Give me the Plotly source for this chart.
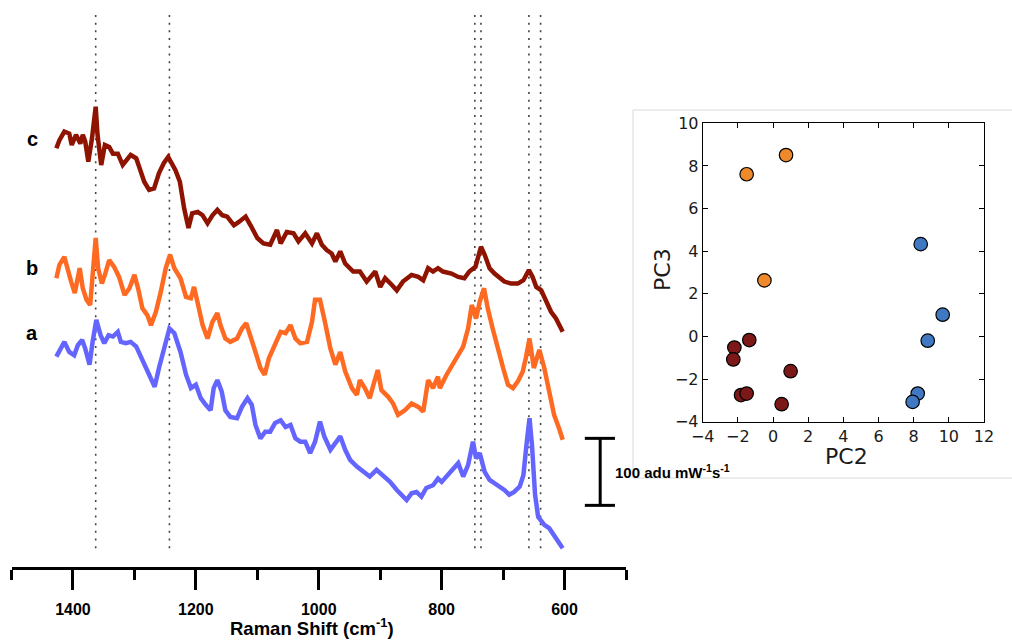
import plotly.graph_objects as go

# ---------------- Raman spectra (wavenumber in cm-1, intensity in adu mW-1 s-1, offset) ----
c_wn = [1427, 1422, 1414, 1406, 1402, 1395, 1388, 1384, 1380, 1375, 1369, 1363, 1360, 1354,
        1348, 1341, 1335, 1327, 1319, 1312, 1306, 1297, 1292, 1284, 1276, 1268, 1260, 1252,
        1245, 1238, 1233, 1226, 1219, 1212, 1206, 1197, 1189, 1181, 1173, 1165, 1157, 1149,
        1138, 1130, 1119, 1111, 1100, 1090, 1079, 1068, 1062, 1052, 1041, 1033, 1022, 1011,
        1003, 995, 987, 979, 973, 965, 957, 944, 933, 922, 908, 900, 892, 881, 873, 863,
        849, 838, 830, 822, 814, 806, 798, 784, 773, 763, 755, 745, 736, 730, 722, 714,
        706, 698, 687, 676, 667, 658, 652, 646, 638, 630, 622, 614, 603]
c_int = [625, 637, 650, 647, 630, 645, 632, 645, 635, 605, 640, 687, 645, 600,
         630, 627, 617, 617, 600, 607, 615, 610, 595, 575, 563, 565, 588, 603,
         612, 600, 592, 575, 535, 506, 528, 530, 525, 513, 525, 533, 525, 523,
         510, 515, 523, 510, 491, 483, 481, 503, 483, 500, 498, 486, 498, 483,
         498, 481, 473, 468, 456, 471, 453, 441, 441, 426, 441, 418, 431, 421, 413, 426,
         436, 433, 428, 446, 441, 446, 441, 438, 433, 431, 441, 448, 478, 466, 446, 438,
         433, 426, 423, 423, 428, 443, 433, 418, 413, 396, 381, 371, 351]

b_wn = [1427, 1422, 1414, 1408, 1403, 1397, 1389, 1384, 1378, 1372, 1368, 1363, 1359, 1353,
        1348, 1341, 1333, 1325, 1316, 1308, 1300, 1294, 1287, 1279, 1273, 1265, 1257, 1249,
        1242, 1235, 1225, 1216, 1208, 1203, 1197, 1189, 1181, 1173, 1165, 1160, 1152, 1144,
        1133, 1125, 1118, 1111, 1103, 1095, 1088, 1081, 1071, 1062, 1054, 1046, 1038, 1030,
        1019, 1011, 1006, 998, 990, 981, 973, 965, 957, 946, 938, 933, 925, 917, 911, 904,
        898, 887, 879, 871, 860, 849, 838, 830, 822, 814, 806, 803, 792, 782, 773, 765,
        757, 751, 744, 738, 731, 725, 717, 709, 700, 692, 684, 676, 668, 663, 657, 650,
        641, 633, 625, 617, 609, 603]
b_int = [431, 451, 463, 441, 426, 409, 446, 416, 399, 391, 436, 491, 446, 423,
         436, 458, 448, 433, 406, 416, 436, 416, 386, 376, 361, 381, 411, 446,
         466, 446, 431, 403, 401, 418, 394, 361, 341, 366, 379, 361, 341, 336,
         341, 356, 364, 346, 321, 297, 287, 312, 331, 351, 349, 361, 341, 334,
         336, 366, 399, 399, 366, 326, 302, 321, 292, 267, 257, 279, 267, 252, 272, 294,
         264, 254, 244, 227, 234, 244, 239, 232, 279, 267, 284, 267, 287, 302, 316, 329,
         356, 391, 371, 396, 416, 386, 356, 326, 297, 272, 267, 277, 292, 312, 341, 297,
         324, 297, 262, 227, 207, 190]

a_wn = [1427, 1422, 1414, 1406, 1398, 1392, 1385, 1380, 1373, 1368, 1362, 1355, 1349, 1342,
        1335, 1327, 1322, 1314, 1306, 1297, 1289, 1281, 1273, 1267, 1260, 1252, 1243, 1235,
        1225, 1216, 1208, 1200, 1192, 1184, 1176, 1171, 1165, 1158, 1152, 1144, 1133, 1125,
        1116, 1109, 1103, 1095, 1087, 1079, 1071, 1062, 1054, 1046, 1038, 1030, 1022, 1014,
        1006, 998, 991, 981, 973, 965, 957, 949, 938, 927, 917, 906, 895, 884, 873, 865,
        857, 849, 841, 833, 825, 814, 806, 800, 790, 782, 773, 765, 757, 749, 744, 738,
        730, 722, 714, 706, 698, 690, 682, 673, 667, 662, 657, 653, 648, 643, 633, 625,
        617, 609, 603]
a_int = [314, 324, 336, 321, 316, 331, 339, 326, 302, 336, 369, 346, 334, 346,
         344, 351, 336, 334, 336, 329, 312, 297, 279, 269, 297, 326, 356, 349,
         321, 287, 267, 272, 252, 242, 234, 267, 279, 262, 234, 224, 222, 239,
         252, 242, 212, 192, 202, 202, 215, 219, 209, 212, 192, 187, 187, 170,
         187, 217, 195, 175, 185, 195, 175, 160, 150, 142, 135, 145, 137, 127, 115, 108,
         100, 110, 112, 105, 118, 122, 132, 127, 137, 145, 155, 135, 152, 187, 162, 170,
         142, 130, 125, 122, 115, 108, 112, 120, 137, 182, 222, 182, 108, 75, 63, 58,
         48, 38, 28]

spectra_names = ["a", "b", "c"]
spectra_colors = ["#6464FF", "#FF6A22", "#8E1300"]
label_int = [350, 446, 639]

peak_wn = [1363, 1243, 746, 736, 658, 639]

# ---------------- PCA scores ----------------
pc2_orange = [0.74, -1.50, -0.49]
pc3_orange = [8.51, 7.61, 2.63]
pc2_blue = [8.40, 9.65, 8.80, 8.23, 7.94]
pc3_blue = [4.33, 1.02, -0.20, -2.68, -3.07]
pc2_red = [-2.20, -2.26, -1.35, 1.00, -1.82, -1.50, 0.49]
pc3_red = [-0.52, -1.08, -0.17, -1.63, -2.75, -2.68, -3.18]

W, H = 1012, 640
fig = go.Figure()

wn_list = [a_wn, b_wn, c_wn]
int_list = [a_int, b_int, c_int]
for name, col, wn, it in zip(spectra_names, spectra_colors, wn_list, int_list):
    fig.add_trace(go.Scatter(x=wn, y=it, mode="lines", name=name,
                             line=dict(color=col, width=4.5), xaxis="x", yaxis="y",
                             hoverinfo="skip"))

groups = [(pc2_red, pc3_red, "#7C1818"), (pc2_orange, pc3_orange, "#EE8A2C"),
          (pc2_blue, pc3_blue, "#4079C2")]
for gx, gy, col in groups:
    fig.add_trace(go.Scatter(x=gx, y=gy, mode="markers", xaxis="x2", yaxis="y2",
                             marker=dict(size=13.5, color=col,
                                         line=dict(color="black", width=1.2))))

shapes = []
for p in peak_wn:
    shapes.append(dict(type="line", xref="x", yref="y", x0=p, x1=p, y0=28, y1=825,
                       line=dict(color="#444444", width=1.6, dash="2px,5.7px"), layer="below"))
# scale bar (100 adu)
sb_x, sb_y0, sb_y1 = 542, 92, 192
shapes.append(dict(type="line", xref="x", yref="y", x0=sb_x, x1=sb_x, y0=sb_y0, y1=sb_y1,
                   line=dict(color="black", width=3)))
for yy in (sb_y0, sb_y1):
    shapes.append(dict(type="line", xref="x", yref="y", x0=567, x1=518, y0=yy, y1=yy,
                       line=dict(color="black", width=3)))
# light frame around the inset
shapes.append(dict(type="rect", xref="paper", yref="paper", x0=633 / W, x1=1.02,
                   y0=1 - 478 / H, y1=1 - 110 / H, line=dict(color="#d8d8d8", width=1),
                   layer="below"))

bold = dict(family="Liberation Sans, Arial", color="black", weight="bold")
ann = []
for name, yv in zip(spectra_names, label_int):
    ann.append(dict(x=1466, y=yv, xref="x", yref="y", text=name, showarrow=False,
                    font=dict(size=20, **bold), xanchor="center", yanchor="middle"))
ann.append(dict(x=521, y=142, xref="x", yref="y", xanchor="left", yanchor="middle",
                text="100 adu mW<sup>-1</sup>s<sup>-1</sup>", showarrow=False,
                font=dict(size=15, **bold)))
ann.append(dict(x=312 / W, y=0, xref="paper", yref="paper", showarrow=False,
                text="Raman Shift (cm<sup>-1</sup>)", font=dict(size=18.5, **bold),
                xanchor="center", yanchor="bottom", borderpad=0))
dv = dict(family="DejaVu Sans", color="#1a1a1a")
ann.append(dict(x=846 / W, y=1 - 456 / H, xref="paper", yref="paper", showarrow=False,
                text="PC2", font=dict(size=22, **dv), xanchor="center", yanchor="middle"))
ann.append(dict(x=662 / W, y=1 - 270 / H, xref="paper", yref="paper", showarrow=False,
                text="PC3", textangle=-90, font=dict(size=22, **dv),
                xanchor="center", yanchor="middle"))

fig.update_layout(
    width=W, height=H, margin=dict(l=0, r=0, t=0, b=0, pad=0), autosize=False,
    paper_bgcolor="white", plot_bgcolor="rgba(0,0,0,0)", showlegend=False,
    shapes=shapes, annotations=ann,
    xaxis=dict(domain=[11.5 / W, 626 / W], range=[1500, 500], showline=True,
               linecolor="black", linewidth=3, ticks="outside", ticklen=20, tickwidth=3,
               tickcolor="black", tickmode="linear", tick0=600, dtick=200,
               tickfont=dict(size=16, **bold), showgrid=False, zeroline=False,
               ticklabelstandoff=6, automargin=False,
               minor=dict(ticks="outside", ticklen=10, tickwidth=3, tickcolor="black",
                          dtick=100, tick0=500, showgrid=False)),
    yaxis=dict(domain=[1 - 567 / H, 1], range=[0, 846.3], visible=False, automargin=False),
    xaxis2=dict(domain=[702.7 / W, 984 / W], anchor="y2", range=[-4, 12], showline=True,
                mirror="ticks", linecolor="black", linewidth=1, ticks="inside", ticklen=5,
                tickwidth=1, tickcolor="black", tickmode="linear", tick0=-4, dtick=2,
                tickfont=dict(size=16, **dv), showgrid=False, zeroline=False,
                automargin=False),
    yaxis2=dict(domain=[1 - 421.7 / H, 1 - 123.3 / H], anchor="x2", range=[-4, 10],
                showline=True, mirror="ticks", linecolor="black", linewidth=1,
                ticks="inside", ticklen=5, tickwidth=1, tickcolor="black",
                tickmode="linear", tick0=-4, dtick=2, tickfont=dict(size=16, **dv),
                showgrid=False, zeroline=False, automargin=False),
)
fig.add_shape(type="rect", xref="x2 domain", yref="y2 domain", x0=0, x1=1, y0=0, y1=1,
              fillcolor="white", line=dict(width=0), layer="below")

fig.write_html("out.html", config={"responsive": False, "displayModeBar": False},
               post_script="document.body.style.margin='0';"
                           "document.body.style.overflow='hidden';")
